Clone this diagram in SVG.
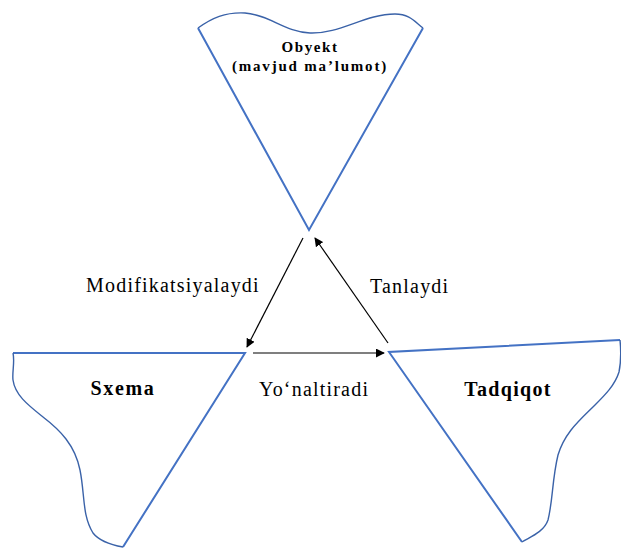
<svg xmlns="http://www.w3.org/2000/svg" width="621" height="549" viewBox="0 0 621 549">
<defs>
<style>
.edge{fill:none;stroke:#4472C4;stroke-width:2;stroke-linejoin:miter}
.wave{fill:none;stroke:#3a62a8;stroke-width:1.4}
.ttl{font-family:"Liberation Serif",serif;font-weight:bold;fill:#000}
.lbl{font-family:"Liberation Serif",serif;font-size:20px;fill:#000;letter-spacing:1.2px}
.conn{stroke:#000;stroke-width:1.2;fill:none;marker-end:url(#ah)}
</style>
<marker id="ah" viewBox="0 0 10 10" refX="9" refY="5" markerWidth="9" markerHeight="9" markerUnits="userSpaceOnUse" orient="auto">
<path d="M0,0 L10,5 L0,10 Z" fill="#000"/>
</marker>
</defs>
<rect width="621" height="549" fill="#fff"/>
<g id="obyekt">
<path class="wave" d="M198,28 C212,18 225,12 245,13 C270,15 285,32 310,33 C340,34 365,14 395,14 C410,14 415,22 423,28"/>
<path class="edge" d="M198,28 L309,230 L423,28"/>
<text class="ttl" x="310" y="52" text-anchor="middle" font-size="15" letter-spacing="1.6">Obyekt</text>
<text class="ttl" x="310" y="71" text-anchor="middle" font-size="15" letter-spacing="1.8">(mavjud ma’lumot)</text>
</g>
<g id="sxema">
<path class="edge" d="M13,353 L245,353 L123,547"/>
<path class="wave" d="M13,353 C15,362 12,372 13,380 C15,395 28,405 43,417 C60,430 75,445 80,470 C85,495 82,515 93,533 C100,542 112,545 123,547"/>
<text class="ttl" x="123" y="395" text-anchor="middle" font-size="20" letter-spacing="1.7">Sxema</text>
</g>
<g id="tadqiqot">
<path class="edge" d="M620,340 L389,352 L522,542"/>
<path class="wave" d="M620,340 C621,350 621,362 619,372 C615,385 605,395 595,405 C580,420 565,432 558,455 C552,480 553,500 548,520 C544,532 530,537 522,542"/>
<text class="ttl" x="508" y="396" text-anchor="middle" font-size="20" letter-spacing="1.3">Tadqiqot</text>
</g>
<g id="connectors">
<line class="conn" x1="303" y1="238" x2="247" y2="347"/>
<line class="conn" x1="388" y1="343" x2="315" y2="238"/>
<line class="conn" x1="253" y1="353" x2="384" y2="353"/>
<text class="lbl" x="86" y="292">Modifikatsiyalaydi</text>
<text class="lbl" x="370" y="293">Tanlaydi</text>
<text class="lbl" x="259" y="396">Yo‘naltiradi</text>
</g>
</svg>
